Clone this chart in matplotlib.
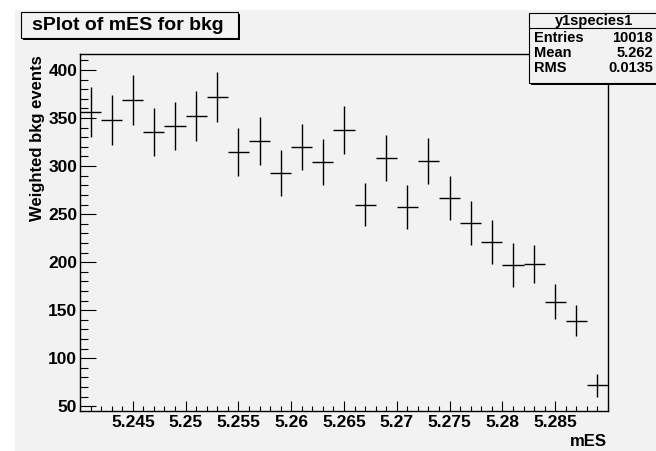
import numpy as np
import matplotlib
matplotlib.use("Agg")
from matplotlib import pyplot as plt
from matplotlib.patches import Rectangle
from matplotlib.ticker import MultipleLocator, FormatStrFormatter

# histogram contents (25 bins, 5.24 - 5.29)
bin_lo = 5.24
bin_hi = 5.29
counts = [356, 348, 369, 335, 342, 352, 372, 315, 326, 293, 320, 304, 338,
          260, 308, 257, 305, 267, 241, 221, 197, 198, 159, 139, 72]
errors = [26, 26, 26, 25, 25, 26, 26, 25, 25, 24, 24, 24, 25,
          22, 24, 23, 24, 23, 23, 23, 23, 20, 18, 16, 12]
y_ticks = [50, 100, 150, 200, 250, 300, 350, 400]
x_ticks = [5.245, 5.25, 5.255, 5.26, 5.265, 5.27, 5.275, 5.28, 5.285]

title = "sPlot of mES for bkg"
stats_name = "y1species1"
stats_rows = [("Entries", "10018"), ("Mean", "5.262"), ("RMS", "0.0135")]

W, H = 656, 451
bg = "#f2f2f2"
font = "Liberation Sans"


def fx(px):
    return px / W


def fy(py):
    return 1 - py / H


fig = plt.figure(figsize=(W / 100, H / 100), dpi=100)
fig.patch.set_facecolor("white")
# grey canvas
fig.patches.append(Rectangle((fx(15), 0), 1 - fx(15), fy(10), transform=fig.transFigure,
                             facecolor=bg, edgecolor="none", zorder=-10))

ax = fig.add_axes([fx(80), fy(411), fx(608) - fx(80), fy(54) - fy(411)])
ax.set_zorder(1)
ax.set_facecolor(bg)

nb = len(counts)
width = (bin_hi - bin_lo) / nb
centers = bin_lo + width * (np.arange(nb) + 0.5)
ax.errorbar(centers, counts, yerr=errors, xerr=width / 2, fmt="none",
            ecolor="black", elinewidth=1.0, capsize=0)

ax.set_xlim(bin_lo, bin_hi)
ax.set_ylim(45, 416.7)
ax.set_xticks(x_ticks)
ax.set_yticks(y_ticks)
ax.xaxis.set_minor_locator(MultipleLocator(0.001))
ax.yaxis.set_minor_locator(MultipleLocator(10))
ax.xaxis.set_major_formatter(FormatStrFormatter("%g"))
ax.tick_params(axis="x", which="major", direction="in", length=7.4, width=0.8, pad=3)
ax.tick_params(axis="x", which="minor", direction="in", length=3.4, width=0.8)
ax.tick_params(axis="y", which="major", direction="in", length=11.4, width=0.8, pad=2)
ax.tick_params(axis="y", which="minor", direction="in", length=5.7, width=0.8)
ax.tick_params(top=False, right=False, which="both")
for lab in ax.get_xticklabels() + ax.get_yticklabels():
    lab.set_fontfamily(font)
    lab.set_fontweight("bold")
    lab.set_fontsize(12.5)
for s in ax.spines.values():
    s.set_linewidth(1.0)

# axis titles, right / top aligned as in ROOT
fig.text(fx(607), fy(441), "mES", fontfamily=font, fontweight="bold", fontsize=12,
         ha="right", va="center")
fig.text(fx(37.5), fy(55), "Weighted bkg events", fontfamily=font, fontweight="bold",
         fontsize=12, rotation=90, ha="center", va="top")

# title box with shadow
fig.patches.append(Rectangle((fx(23), fy(40)), fx(238) - fx(21), fy(14) - fy(40),
                             transform=fig.transFigure, facecolor="black", edgecolor="none", zorder=5))
fig.patches.append(Rectangle((fx(21), fy(38)), fx(238) - fx(21), fy(12) - fy(38),
                             transform=fig.transFigure, facecolor=bg, edgecolor="black",
                             linewidth=0.8, zorder=6))
fig.text(fx(32), fy(25.5), title, fontfamily=font, fontweight="bold", fontsize=14,
         va="center", ha="left", zorder=7)

# stats box
fig.patches.append(Rectangle((fx(531), fy(85)), fx(660) - fx(529), fy(15) - fy(85),
                             transform=fig.transFigure, facecolor="black", edgecolor="none", zorder=5))
fig.patches.append(Rectangle((fx(529), fy(83)), fx(658) - fx(529), fy(13) - fy(83),
                             transform=fig.transFigure, facecolor=bg, edgecolor="black",
                             linewidth=0.8, zorder=6))
fig.add_artist(plt.Line2D([fx(529), 1], [fy(28), fy(28)], transform=fig.transFigure,
                          color="black", linewidth=0.8, zorder=7))
fig.text(fx(594), fy(20.5), stats_name, fontfamily=font, fontweight="bold", fontsize=10.5,
         ha="center", va="center", zorder=7)
for i, (k, v) in enumerate(stats_rows):
    yy = fy(37.5 + i * 15.5)
    fig.text(fx(534), yy, k, fontfamily=font, fontweight="bold", fontsize=10.5,
             ha="left", va="center", zorder=7)
    fig.text(fx(653), yy, v, fontfamily=font, fontweight="bold", fontsize=10.5,
             ha="right", va="center", zorder=7)

fig.savefig("out.png", dpi=100)
